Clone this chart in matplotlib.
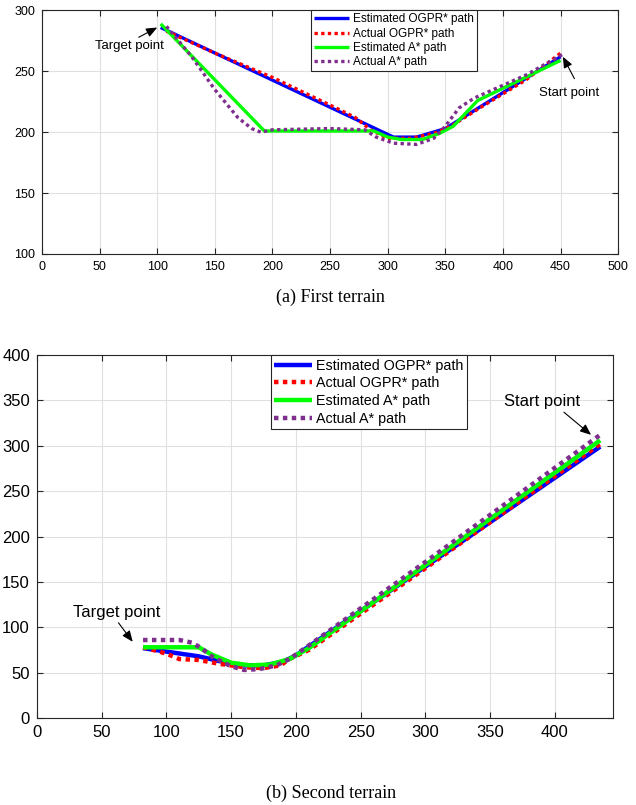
import numpy as np
import matplotlib.pyplot as plt

plt.rcParams['font.family'] = ['Liberation Sans', 'DejaVu Sans']

# First terrain
t1_est_ogpr_x = [103, 305, 325, 350, 450]
t1_est_ogpr_y = [286, 196, 196, 203, 262]
t1_act_ogpr_x = [108, 150, 200, 255, 272, 285, 300, 320, 340, 355, 380, 420, 450]
t1_act_ogpr_y = [283, 265, 245, 220, 212, 202, 195, 195, 199, 205, 220, 243, 265]
t1_est_astar_x = [103, 193, 288, 300, 312, 330, 345, 357, 378, 450]
t1_est_astar_y = [289, 201, 201, 196, 194, 194, 199, 205, 226, 259]
t1_act_astar_x = [108, 130, 150, 170, 182, 190, 200, 250, 280, 290, 305, 325, 340, 350, 362, 375, 420, 452]
t1_act_astar_y = [287, 262, 235, 212, 203, 200, 202, 203, 202, 196, 191, 190, 195, 205, 220, 228, 247, 264]

# Second terrain
t2_est_ogpr_x = [82, 125, 140, 160, 175, 190, 200, 435]
t2_est_ogpr_y = [77, 68, 63, 58, 58, 62, 69, 299]
t2_act_ogpr_x = [82, 100, 110, 125, 140, 160, 175, 188, 195, 210, 300, 435]
t2_act_ogpr_y = [78, 71, 65, 64, 60, 56, 55, 58, 65, 75, 165, 302]
t2_est_astar_x = [82, 125, 135, 150, 165, 180, 195, 210, 435]
t2_est_astar_y = [78, 78, 70, 61, 58, 59, 65, 77, 306]
t2_act_astar_x = [82, 110, 120, 127, 135, 150, 160, 172, 185, 195, 210, 300, 435]
t2_act_astar_y = [86, 86, 83, 77, 68, 57, 53, 54, 58, 65, 80, 172, 312]

labels = ['Estimated OGPR* path', 'Actual OGPR* path', 'Estimated A* path', 'Actual A* path']

arrow = dict(arrowstyle='-|>,head_length=0.6,head_width=0.25', color='black', lw=0.8,
             mutation_scale=11, shrinkA=0, shrinkB=0)


def style_axes(ax, fs):
    ax.grid(True, color='#e0e0e0', linewidth=0.8)
    ax.set_axisbelow(True)
    ax.tick_params(direction='in', top=True, right=True, labelsize=fs, length=4,
                   color='#262626', pad=5)
    for s in ax.spines.values():
        s.set_color('#262626')
        s.set_linewidth(0.8)


def draw_paths(ax, d, lw):
    ax.plot(d[0], d[1], color='#0000ff', lw=lw, solid_capstyle='butt', label=labels[0])
    ax.plot(d[2], d[3], color='#ff0000', lw=lw, ls=(0, (1, 1)), dash_capstyle='butt', label=labels[1])
    ax.plot(d[4], d[5], color='#00ff00', lw=lw, solid_capstyle='butt', label=labels[2])
    ax.plot(d[6], d[7], color='#7e2f8e', lw=lw, ls=(0, (1, 1)), dash_capstyle='butt', label=labels[3])


def point_label(ax, text, txt_xy, tail, tip, fs):
    ax.text(txt_xy[0], txt_xy[1], text, fontsize=fs, ha='center', va='center')
    ax.annotate('', xy=tip, xytext=tail, arrowprops=arrow)


fig = plt.figure(figsize=(6.36, 8.05), dpi=100)

# (a) first terrain
ax1 = fig.add_axes([0.066, 0.6845, 0.906, 0.3025])
draw_paths(ax1, [t1_est_ogpr_x, t1_est_ogpr_y, t1_act_ogpr_x, t1_act_ogpr_y,
                 t1_est_astar_x, t1_est_astar_y, t1_act_astar_x, t1_act_astar_y], 2.4)
ax1.set_xlim(0, 500)
ax1.set_ylim(100, 300)
ax1.set_xticks(np.arange(0, 501, 50))
ax1.set_yticks(np.arange(100, 301, 50))
style_axes(ax1, 9)
leg1 = ax1.legend(loc='upper left', bbox_to_anchor=(0.467, 1.0), fontsize=8.5, handlelength=3.0,
                  borderpad=0.25, labelspacing=0.2, handletextpad=0.3, borderaxespad=0,
                  fancybox=False, edgecolor='#262626', framealpha=1)
leg1.get_frame().set_linewidth(0.8)
point_label(ax1, 'Target point', (76, 271), (84, 278), (100, 286), 9.5)
point_label(ax1, 'Start point', (457, 232), (462, 244), (452, 262), 9.5)
fig.text(0.52, 1 - 297 / 805, '(a) First terrain', fontsize=13, family='Liberation Serif',
         ha='center', va='center')

# (b) second terrain
ax2 = fig.add_axes([0.058, 0.108, 0.906, 0.451])
draw_paths(ax2, [t2_est_ogpr_x, t2_est_ogpr_y, t2_act_ogpr_x, t2_act_ogpr_y,
                 t2_est_astar_x, t2_est_astar_y, t2_act_astar_x, t2_act_astar_y], 3.2)
ax2.set_xlim(0, 445)
ax2.set_ylim(0, 400)
ax2.set_xticks(np.arange(0, 401, 50))
ax2.set_yticks(np.arange(0, 401, 50))
style_axes(ax2, 12)
leg2 = ax2.legend(loc='upper left', bbox_to_anchor=(0.406, 1.0), fontsize=10.3, handlelength=2.6,
                  borderpad=0.25, labelspacing=0.26, handletextpad=0.3, borderaxespad=0,
                  fancybox=False, edgecolor='#262626', framealpha=1)
leg2.get_frame().set_linewidth(0.8)
point_label(ax2, 'Target point', (62, 116), (63, 105), (74, 84), 12)
point_label(ax2, 'Start point', (390, 349), (407, 337), (428, 312), 12)
fig.text(0.52, 1 - 793 / 805, '(b) Second terrain', fontsize=13, family='Liberation Serif',
         ha='center', va='center')

fig.savefig('out.png', dpi=100)
